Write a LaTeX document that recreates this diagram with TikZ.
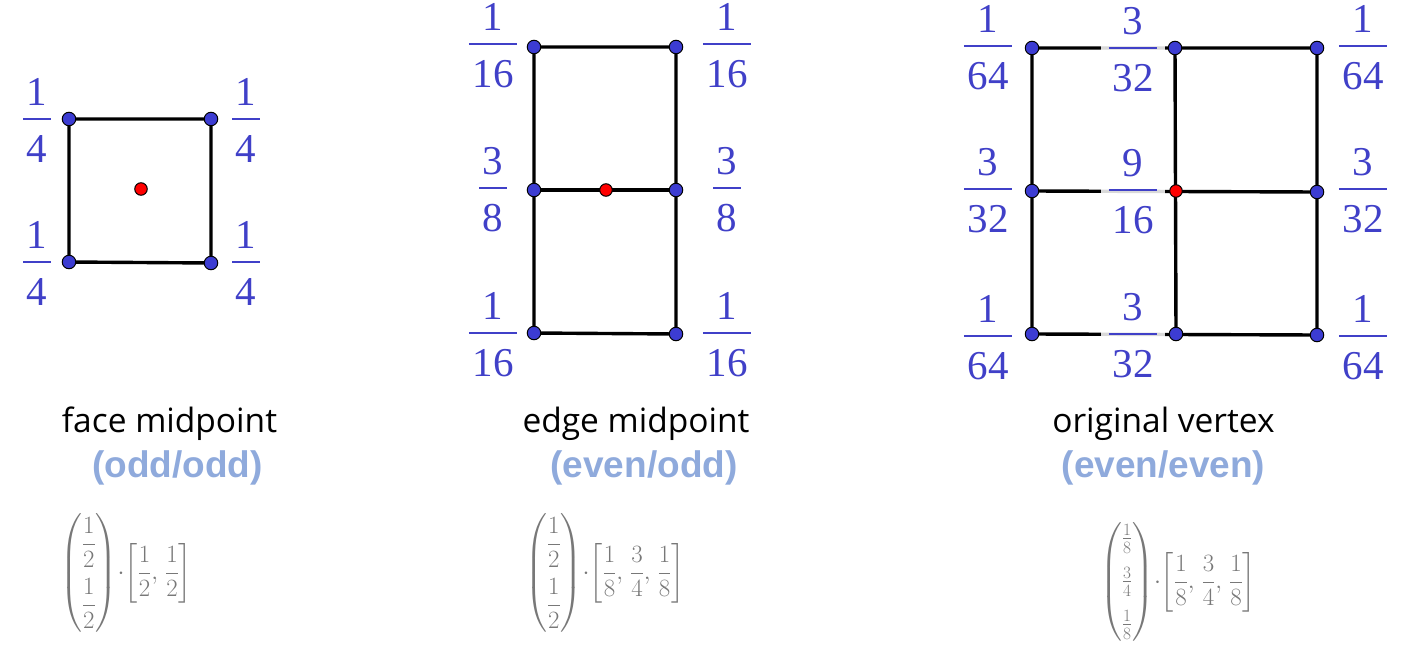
\documentclass[tikz,border=0pt]{standalone}
\usepackage{amsmath}
\usepackage{fontspec}
\newfontfamily\numfont{Liberation Serif}
\newfontfamily\capfont{Open Sans}
\newfontfamily\subfont{Liberation Sans}
\usetikzlibrary{calc}
\definecolor{lblue}{RGB}{64,64,200}
\definecolor{dblue}{RGB}{60,60,210}
\definecolor{subblue}{RGB}{143,170,220}
\definecolor{matgray}{RGB}{120,120,120}
\pgfdeclarelayer{bg}
\pgfsetlayers{bg,main}
\tikzset{
  vdot/.style={circle,draw=black,line width=1pt,fill=dblue,inner sep=0pt,minimum size=13.5pt},
  rdot/.style={circle,draw=black,line width=1pt,fill=red,inner sep=0pt,minimum size=12.5pt},
  edge/.style={draw=black,line width=3.4pt,line cap=round},
  fnum/.style={text=lblue,font=\fontsize{41}{41}\numfont,inner sep=0pt},
  fden/.style={text=lblue,font=\fontsize{41}{41}\numfont,inner ysep=0pt,inner xsep=3.5pt},
  fbar/.style={draw=lblue,line width=2.2pt},
  capt/.style={font=\fontsize{33.5}{33.5}\capfont,text=black,anchor=base,inner sep=0pt},
  subt/.style={font=\fontsize{37}{37}\subfont\bfseries,text=subblue,anchor=base,inner sep=0pt},
  mat/.style={text=matgray,font=\fontsize{27}{31}\selectfont,inner sep=0pt,anchor=west}
}
% name, x, y of bar, numerator, denominator
\newcommand\fr[5]{%
  \coordinate (#1) at (#2,#3);
  \node[fnum] (#1n) at ([yshift=27pt]#1) {#4};
  \node[fden] (#1d) at ([yshift=-30pt]#1) {#5};
  \draw[fbar] (#1d.west |- #1) -- (#1d.east |- #1);
}
\newcommand\frw[5]{%
  \coordinate (#1) at (#2,#3);
  \node[fnum] (#1n) at ([yshift=27pt]#1) {#4};
  \node[fden] (#1d) at ([yshift=-30pt]#1) {#5};
  \fill[white,opacity=0.85] ([xshift=-8pt,yshift=3.5pt]#1d.west |- #1) rectangle ([xshift=8pt,yshift=-3.5pt]#1d.east |- #1);
  \draw[fbar] (#1d.west |- #1) -- (#1d.east |- #1);
}
\newcommand\cdt{\mathbin{\mkern-4mu\cdot\mkern-4mu}}
\newcommand\cm{,\mkern2mu}
\begin{document}
\begin{tikzpicture}[x=1pt,y=-1pt]
\useasboundingbox (0,0) rectangle (1414,650);

% ---------- diagram 1: face midpoint ----------
\node[vdot] (a1) at (69,119) {};
\node[vdot] (a2) at (211,119) {};
\node[vdot] (a3) at (69,262) {};
\node[vdot] (a4) at (211,263) {};
\node[rdot] (ar) at (141,189) {};
\begin{pgfonlayer}{bg}
  \draw[edge] (a1.center) -- (a2.center) -- (a4.center) -- (a3.center) -- cycle;
\end{pgfonlayer}
\fr{la1}{37}{119}{1}{4}
\fr{la2}{246}{119}{1}{4}
\fr{la3}{37}{262}{1}{4}
\fr{la4}{246}{262}{1}{4}

% ---------- diagram 2: edge midpoint ----------
\node[vdot] (b1) at (534,47) {};
\node[vdot] (b2) at (676,47) {};
\node[vdot] (b3) at (534,190) {};
\node[vdot] (b4) at (676,190) {};
\node[vdot] (b5) at (534,333) {};
\node[vdot] (b6) at (676,334) {};
\node[rdot] (br) at (606,190) {};
\begin{pgfonlayer}{bg}
  \draw[edge] (b1.center) -- (b2.center) -- (b6.center) -- (b5.center) -- cycle;
  \draw[edge] (b3.center) -- (b4.center);
\end{pgfonlayer}
\fr{lb1}{493}{44}{1}{16}
\fr{lb2}{727}{44}{1}{16}
\fr{lb3}{493}{188}{3}{8}
\fr{lb4}{727}{188}{3}{8}
\fr{lb5}{493}{333}{1}{16}
\fr{lb6}{727}{333}{1}{16}

% ---------- diagram 3: original vertex ----------
\node[vdot] (c1) at (1032,48) {};
\node[vdot] (c2) at (1175,48) {};
\node[vdot] (c3) at (1317,48) {};
\node[vdot] (c4) at (1032,191) {};
\node[rdot] (c5) at (1176,191) {};
\node[vdot] (c6) at (1317,192) {};
\node[vdot] (c7) at (1032,334) {};
\node[vdot] (c8) at (1176,334) {};
\node[vdot] (c9) at (1317,335) {};
\begin{pgfonlayer}{bg}
  \draw[edge] (c1.center) -- (c3.center) -- (c9.center) -- (c7.center) -- cycle;
  \draw[edge] (c4.center) -- (c6.center);
  \draw[edge] (c2.center) -- (c8.center);
\end{pgfonlayer}
\fr{lc1}{988}{46}{1}{64}
\frw{lc2}{1133}{48}{3}{32}
\fr{lc3}{1363}{46}{1}{64}
\fr{lc4}{988}{189}{3}{32}
\frw{lc5}{1133}{190}{9}{16}
\fr{lc6}{1363}{189}{3}{32}
\fr{lc7}{988}{336}{1}{64}
\frw{lc8}{1133}{334}{3}{32}
\fr{lc9}{1363}{336}{1}{64}

% ---------- captions ----------
\node[capt] (t1) at (169.5,432) {face midpoint};
\node[subt] (s1) at (177.5,477) {(odd/odd)};
\node[capt] (t2) at (636,432) {edge midpoint};
\node[subt] (s2) at (644,477) {(even/odd)};
\node[capt] (t3) at (1163.5,432) {original vertex};
\node[subt] (s3) at (1163.5,477) {(even/even)};

% ---------- matrices ----------
\node[mat] (m1) at (60,573) {$\begin{pmatrix}\dfrac12\\[19pt]\dfrac12\end{pmatrix}\cdt\left[\dfrac12\cm\dfrac12\right]$};
\node[mat] (m2) at (525,573) {$\begin{pmatrix}\dfrac12\\[19pt]\dfrac12\end{pmatrix}\cdt\left[\dfrac18\cm\dfrac34\cm\dfrac18\right]$};
\node[mat] (m3) at (1100,582) {$\begin{pmatrix}\frac18\\[12pt]\frac34\\[12pt]\frac18\end{pmatrix}\cdt\left[\dfrac18\cm\dfrac34\cm\dfrac18\right]$};
\end{tikzpicture}
\end{document}
